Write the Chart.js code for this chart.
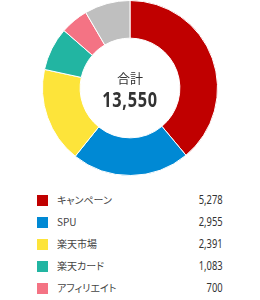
<!DOCTYPE html>
<html lang="ja">
<head>
<meta charset="utf-8">
<script src="https://cdn.jsdelivr.net/npm/chart.js@4/dist/chart.umd.min.js"></script>
<style>
  html, body { margin: 0; padding: 0; background: #fff; overflow: hidden; }
  body { width: 260px; height: 300px; font-family: 'Noto Sans CJK JP', 'Noto Sans', sans-serif; color: #444; }
  #wrap { position: relative; width: 260px; height: 176px; }
  #legend { list-style: none; margin: 0; padding: 0; position: absolute; top: 189px; left: 0; width: 260px; }
  #legend li { position: relative; height: 22px; font-size: 10px; line-height: 22px; }
  #legend .sw { position: absolute; left: 37px; top: 6px; width: 11px; height: 11px; }
  #legend .lb { position: absolute; left: 57px; top: 0; font-feature-settings: 'palt'; }
  #legend .val { position: absolute; right: 37px; top: 0; font-family: 'Noto Sans', sans-serif; font-size: 12px;
                 transform: scaleX(0.78); transform-origin: right center; color: #333; }
</style>
</head>
<body>
<div id="wrap"><canvas id="chart-donut"></canvas></div>
<ul id="legend"></ul>
<script>
// --- Datos ---
const LABELS = ['キャンペーン', 'SPU', '楽天市場', '楽天カード', 'アフィリエイト', 'その他'];
const VALUES = [5278, 2955, 2391, 1083, 700, 1143];
const COLORS = ['#c00000', '#0089d4', '#fde43a', '#22b5a2', '#f47384', '#bfbfbf'];
const TOTAL_LABEL = '合計';

const total = VALUES.reduce((a, b) => a + b, 0);
const fmt = (n) => n.toLocaleString('en-US');

/** Texto central del donut */
const centerText = {
  id: 'centerText',
  afterDraw(chart) {
    const { ctx } = chart;
    const arc = chart.getDatasetMeta(0).data[0];
    if (!arc) return;
    const x = arc.x, y = arc.y;
    ctx.save();
    ctx.fillStyle = '#333';
    ctx.textAlign = 'center';
    ctx.textBaseline = 'middle';
    ctx.font = "13px 'Noto Sans CJK JP', sans-serif";
    ctx.fillText(TOTAL_LABEL, x, y - 10);
    // número condensado
    ctx.translate(x, y + 13);
    ctx.scale(0.74, 1);
    ctx.font = "bold 22px 'Noto Sans', sans-serif";
    ctx.letterSpacing = '1px';
    ctx.fillText(fmt(total), 0, 0);
    ctx.restore();
  },
};

new Chart(document.getElementById('chart-donut'), {
  type: 'doughnut',
  data: {
    labels: LABELS,
    datasets: [{
      data: VALUES,
      backgroundColor: COLORS,
      borderColor: '#fff',
      borderWidth: 1,
    }],
  },
  options: {
    responsive: true,
    maintainAspectRatio: false,
    animation: false,
    cutout: '57%',
    layout: { padding: 0 },
    plugins: {
      legend: { display: false },
      tooltip: { enabled: false },
    },
  },
  plugins: [centerText],
});

// --- Leyenda HTML ---
const ul = document.getElementById('legend');
LABELS.forEach((lbl, i) => {
  const li = document.createElement('li');
  li.innerHTML = `<span class="sw" style="background:${COLORS[i]}"></span>` +
    `<span class="lb">${lbl}</span><span class="val">${fmt(VALUES[i])}</span>`;
  ul.appendChild(li);
});
</script>
</body>
</html>
